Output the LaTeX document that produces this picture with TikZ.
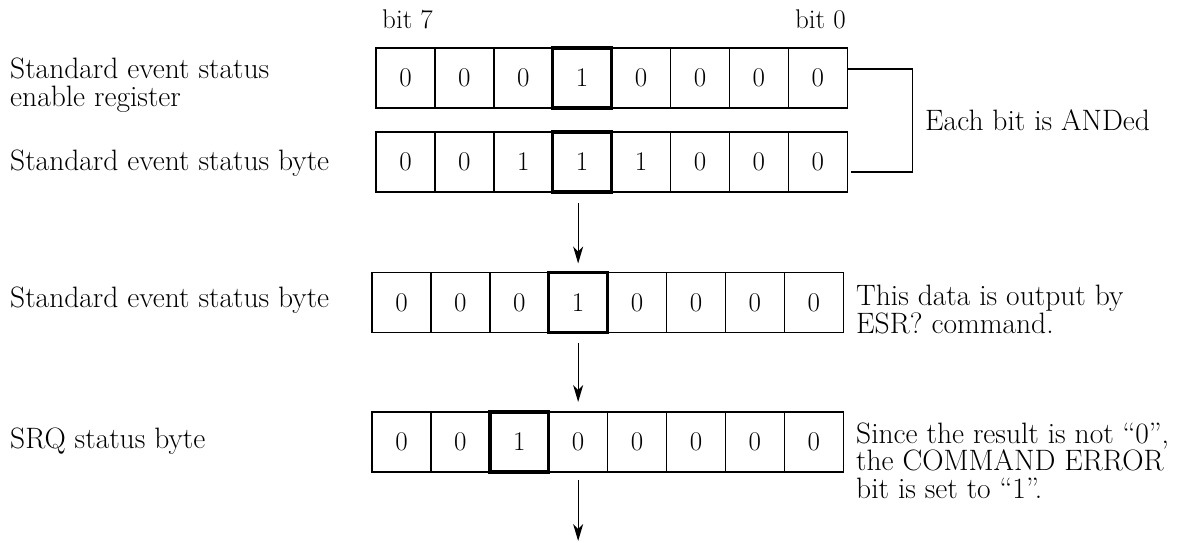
\documentclass[tikz,border=0pt]{standalone}
\usetikzlibrary{arrows.meta}
\begin{document}
\begin{tikzpicture}[x=1pt,y=-1pt,
  cell/.style={draw, line width=1.4pt, minimum width=58.9pt, minimum height=60pt,
    inner sep=0pt, outer sep=0pt, font=\fontsize{27}{28}\selectfont},
  hl/.style={line width=3.4pt},
  lbl/.style={font=\fontsize{29.5}{27.5}\selectfont, inner sep=0pt, align=left},
  conn/.style={line width=1.3pt},
  arr/.style={line width=1.3pt, -{Stealth[length=17pt,width=10pt,inset=5pt]}}]
\useasboundingbox (0,0) rectangle (1178,542);

% bit rows
\foreach \b [count=\i from 0] in {0,0,0,1,0,0,0,0}
  \node[cell] (A\i) at ({376+58.9*(\i+0.5)},78) {\b};
\foreach \b [count=\i from 0] in {0,0,1,1,1,0,0,0}
  \node[cell] (B\i) at ({376+58.9*(\i+0.5)},162) {\b};
\foreach \b [count=\i from 0] in {0,0,0,1,0,0,0,0}
  \node[cell] (C\i) at ({372+58.9*(\i+0.5)},302.5) {\b};
\foreach \b [count=\i from 0] in {0,0,1,0,0,0,0,0}
  \node[cell] (D\i) at ({372+58.9*(\i+0.5)},442) {\b};

% highlighted bits
\draw[hl] (A3.north west) rectangle (A3.south east);
\draw[hl] (B3.north west) rectangle (B3.south east);
\draw[hl] (C3.north west) rectangle (C3.south east);
\draw[hl] (D2.north west) rectangle (D2.south east);

% bit numbers
\node[lbl, font=\fontsize{27}{27}\selectfont, anchor=base west] (b7) at (382,28) {bit 7};
\node[lbl, font=\fontsize{27}{27}\selectfont, anchor=base east] (b0) at (846,28) {bit 0};

% left labels (base = last line)
\node[lbl, anchor=base west] (lA) at (10,106) {Standard event status\\enable register};
\node[lbl, anchor=base west] (lB) at (10,170) {Standard event status byte};
\node[lbl, anchor=base west] (lC) at (10,307) {Standard event status byte};
\node[lbl, anchor=base west] (lD) at (10,448) {SRQ status byte};

% AND connector
\draw[conn] ([yshift=9pt]A7.east) -- ++(65,0) |- ([xshift=4pt,yshift=-10pt]B7.east);
\node[lbl, anchor=base west] (and) at (925,130) {Each bit is ANDed};

% right notes (base = last line)
\node[lbl, anchor=base west] (n1) at (856,333) {This data is output by\\ESR? command.};
\node[lbl, anchor=base west] (n2) at (856,498) {Since the result is not “0”,\\the COMMAND ERROR\\bit is set to “1”.};

% arrows
\path (C3.center |- B3.south) ++(0,11) coordinate (s1);
\draw[arr] (s1) -- ([yshift=9pt]C3.north);
\draw[arr] ([yshift=-10pt]C3.south) -- ([yshift=10pt]D3.north);
\path (D3.south) ++(0,69) coordinate (out);
\draw[arr] ([yshift=-8pt]D3.south) -- (out);
\end{tikzpicture}
\end{document}
